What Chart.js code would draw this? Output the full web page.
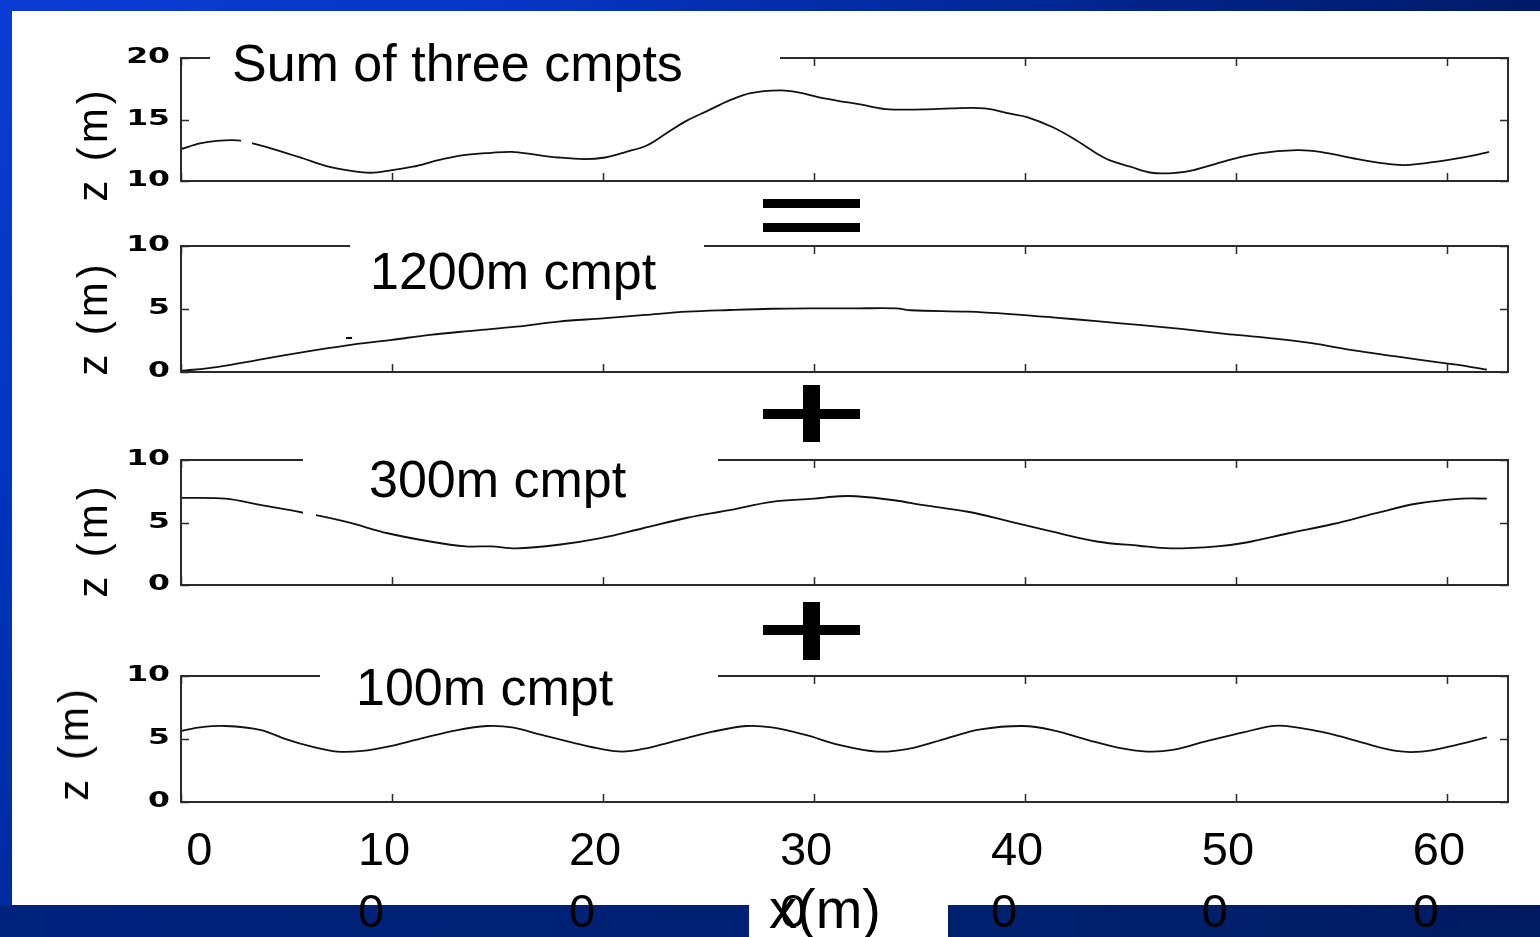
<!DOCTYPE html>
<html>
<head>
<meta charset="utf-8">
<script src="https://cdn.jsdelivr.net/npm/chart.js@4.4.1/dist/chart.umd.min.js"></script>
<style>
  html, body { margin: 0; padding: 0; }
  body {
    width: 1540px; height: 937px; overflow: hidden; position: relative;
    background: #00216f;
    font-family: 'Liberation Sans', Arial, sans-serif;
  }
  .abs { position: absolute; }
  .white { background: #fff; }
  .bar { position: absolute; background: #000; }
  canvas { position: absolute; left: 0; z-index: 1; }
  .title { position: absolute; z-index: 3; font-size: 52px; line-height: 52px; color: #000; white-space: nowrap; }
  .ylab { position: absolute; z-index: 3; font-size: 42px; line-height: 42px; letter-spacing: 4px; color: #000;
          white-space: nowrap; transform: translate(-50%, -50%) rotate(-90deg); }
</style>
</head>
<body>
<div class="abs" style="left:0; top:0; width:1540px; height:11px; background: linear-gradient(to right, #0a3cd4, #0734c2 35%, #002690 70%, #001a68);"></div>
<div class="abs" style="left:0; top:0; width:12px; height:905px; background: linear-gradient(to bottom, #0a3cd4, #0034bc 60%, #002aa0);"></div>
<div class="abs" style="left:0; top:905px; width:1540px; height:32px; background: linear-gradient(to right, #00237e, #00216f 70%, #001a60);"></div>
<div class="abs white" style="left:12px; top:11px; width:1528px; height:894px;"></div>
<div class="abs white" style="left:749px; top:905px; width:199px; height:32px;"></div>

<canvas id="c1"></canvas>
<canvas id="c2"></canvas>
<canvas id="c3"></canvas>
<canvas id="c4"></canvas>

<!-- title boxes cover the top border like in the slide -->
<div class="abs white" style="z-index:2; left:210px; top:35px; width:570px; height:53px;"></div>
<div class="abs white" style="z-index:2; left:350px; top:236px; width:354px; height:64px;"></div>
<div class="abs white" style="z-index:2; left:303px; top:450px; width:415px; height:58px;"></div>
<div class="abs white" style="z-index:2; left:320px; top:666px; width:398px; height:52px;"></div>
<div class="abs white" style="z-index:2; left:241px; top:133px; width:11px; height:15px;"></div>
<div class="abs white" style="z-index:2; left:303px; top:500px; width:13px; height:20px;"></div>
<div class="bar" style="z-index:2; left:346px; top:337px; width:6px; height:2px;"></div>

<div class="title" style="left:232px; top:37px;">Sum of three cmpts</div>
<div class="title" style="left:370px; top:245px;">1200m cmpt</div>
<div class="title" style="left:369px; top:453px;">300m cmpt</div>
<div class="title" style="left:356px; top:661px;">100m cmpt</div>

<div class="ylab" style="left:93px; top:144px;">z (m)</div>
<div class="ylab" style="left:93px; top:318px;">z (m)</div>
<div class="ylab" style="left:93px; top:540px;">z (m)</div>
<div class="ylab" style="left:74px; top:743px;">z (m)</div>

<!-- = and + signs -->
<div class="bar" style="z-index:2; left:763px; top:199px; width:97px; height:9px;"></div>
<div class="bar" style="z-index:2; left:763px; top:223px; width:97px; height:9px;"></div>
<div class="bar" style="z-index:2; left:763px; top:409px; width:97px; height:10px;"></div>
<div class="bar" style="z-index:2; left:803px; top:385px; width:17px; height:57px;"></div>
<div class="bar" style="z-index:2; left:763px; top:625px; width:97px; height:10px;"></div>
<div class="bar" style="z-index:2; left:803px; top:602px; width:17px; height:58px;"></div>

<div class="abs" style="z-index:3; left:769px; top:880px; font-size:56px; line-height:58px;">x(m)</div>

<script>
// x positions (m) and elevations z (m)
const xSum = [0, 9, 17, 27, 34, 48, 58, 70, 80, 90, 100, 110, 122, 134, 147, 157, 167, 179, 191, 201,
              211, 221, 231, 240, 250, 260, 270, 284, 292, 302, 312, 322, 334, 352, 365, 381, 393, 401,
              413, 423, 434, 440, 450, 460, 472, 480, 495, 511, 529, 540, 556, 568, 580, 597, 611, 620];
const zSum = [12.6, 13.05, 13.26, 13.3, 13.05, 12.37, 11.83, 11.16, 10.84, 10.67, 10.89, 11.16, 11.7, 12.1,
              12.29, 12.37, 12.16, 11.91, 11.78, 11.91, 12.37, 12.91, 13.99, 14.93, 15.74, 16.55, 17.14,
              17.36, 17.22, 16.82, 16.5, 16.23, 15.85, 15.82, 15.9, 15.9, 15.47, 15.2, 14.39, 13.45, 12.24,
              11.7, 11.16, 10.67, 10.67, 10.89, 11.62, 12.24, 12.51, 12.37, 11.83, 11.48, 11.29, 11.62,
              12.02, 12.37];

const x1200 = [0, 17, 38, 58, 78, 100, 118, 139, 159, 179, 200, 220, 240, 260, 280, 300, 320, 339, 346,
               373, 393, 413, 434, 454, 474, 495, 515, 536, 556, 576, 597, 607, 619];
const z1200 = [0.08, 0.39, 1.0, 1.58, 2.1, 2.55, 2.95, 3.29, 3.6, 4.0, 4.26, 4.53, 4.79, 4.92, 5.02, 5.05,
               5.05, 5.05, 4.9, 4.79, 4.6, 4.34, 4.03, 3.74, 3.42, 3.03, 2.71, 2.29, 1.71, 1.24, 0.74,
               0.53, 0.18];

const x300 = [0, 21, 38, 58, 78, 98, 118, 135, 147, 159, 179, 199, 219, 240, 260, 280, 300, 312, 320,
              338, 352, 373, 393, 413, 434, 454, 469, 491, 505, 525, 546, 566, 586, 607, 619];
const z300 = [6.97, 6.91, 6.39, 5.78, 5.07, 4.14, 3.48, 3.09, 3.09, 2.93, 3.22, 3.75, 4.54, 5.38, 5.99,
              6.65, 6.91, 7.1, 7.1, 6.78, 6.39, 5.86, 5.07, 4.27, 3.48, 3.14, 2.93, 3.09, 3.4, 4.14, 4.88,
              5.73, 6.52, 6.91, 6.91];

const x100 = [0, 9, 21, 38, 50, 62, 74, 86, 98, 114, 131, 145, 157, 171, 187, 199, 209, 219, 236, 252,
              268, 280, 296, 312, 330, 346, 363, 379, 399, 413, 430, 444, 458, 470, 487, 503, 517, 527,
              544, 560, 576, 588, 601, 619];
const z100 = [5.63, 5.92, 6.03, 5.71, 4.97, 4.39, 4.0, 4.05, 4.39, 5.05, 5.71, 6.03, 5.92, 5.32, 4.66,
              4.21, 4.0, 4.21, 4.92, 5.58, 6.03, 5.92, 5.32, 4.53, 4.0, 4.26, 5.05, 5.76, 6.03, 5.71, 4.92,
              4.32, 4.0, 4.13, 4.87, 5.5, 6.03, 5.97, 5.45, 4.71, 4.05, 4.0, 4.39, 5.13];

// x tick labels wrap their last digit onto a second line, as on the slide
const xTickLabels = {0: ['\u2007 0'], 100: ['10', '0'], 200: ['20', '0'], 300: ['30', '0'],
                     400: ['40', '0'], 500: ['50', '0'], 600: ['60', '0']};

const X_MAX = 629;
const PLOT_LEFT = 181;
const PLOT_RIGHT = 1508;
const PAD = 26;

// matlab style box with inward ticks
const boxPlugin = {
  id: 'matlabBox',
  afterLayout(chart) {
    // the slide's y tick numbers are stretched sideways
    const y = chart.scales.y;
    if (y._stretched) return;
    const orig = y.drawLabels;
    y.drawLabels = function (area) {
      const ctx = this.ctx;
      const ax = this.right - this.options.ticks.padding;
      ctx.save();
      ctx.translate(ax, 0);
      ctx.scale(1.5, 1);
      ctx.translate(-ax, 0);
      orig.call(this, area);
      ctx.restore();
    };
    y._stretched = true;
  },
  afterDatasetsDraw(chart) {
    const { ctx, chartArea: a, scales: { x, y } } = chart;
    ctx.save();
    ctx.strokeStyle = '#2a2a2a';
    ctx.lineWidth = 2;
    ctx.strokeRect(a.left, a.top, a.right - a.left, a.bottom - a.top);
    ctx.lineWidth = 1.5;
    ctx.beginPath();
    x.ticks.forEach(t => {
      const px = Math.round(x.getPixelForValue(t.value)) + 0.5;
      ctx.moveTo(px, a.bottom); ctx.lineTo(px, a.bottom - 8);
      ctx.moveTo(px, a.top); ctx.lineTo(px, a.top + 8);
    });
    y.ticks.forEach(t => {
      const py = Math.round(y.getPixelForValue(t.value)) + 0.5;
      ctx.moveTo(a.left, py); ctx.lineTo(a.left + 8, py);
      ctx.moveTo(a.right, py); ctx.lineTo(a.right - 8, py);
    });
    ctx.stroke();
    ctx.restore();
  }
};

function makePanel(id, xs, zs, yMin, yMax, plotTop, plotBottom, showX) {
  const canvas = document.getElementById(id);
  const canvasTop = plotTop - PAD;
  const xHeight = showX ? 937 - plotBottom : PAD;
  const height = plotBottom + xHeight - canvasTop;
  canvas.width = 1540;
  canvas.height = height;
  canvas.style.top = canvasTop + 'px';
  canvas.style.width = '1540px';
  canvas.style.height = height + 'px';

  const punti = xs.map((v, i) => ({ x: v, y: zs[i] }));

  return new Chart(canvas, {
    type: 'line',
    data: {
      datasets: [{
        data: punti,
        borderColor: '#111',
        borderWidth: 1.8,
        pointRadius: 0,
        tension: 0.35,
        fill: false
      }]
    },
    options: {
      responsive: false,
      devicePixelRatio: 1,
      animation: false,
      events: [],
      layout: { padding: { top: PAD, right: 1540 - PLOT_RIGHT, left: 0, bottom: 0 } },
      plugins: { legend: { display: false }, tooltip: { enabled: false }, title: { display: false } },
      scales: {
        x: {
          type: 'linear',
          min: 0,
          max: X_MAX,
          grid: { display: false, drawTicks: false },
          border: { display: false },
          afterFit: s => { s.height = xHeight; },
          ticks: {
            display: showX,
            stepSize: 100,
            includeBounds: false,
            autoSkip: false,
            maxRotation: 0,
            minRotation: 0,
            align: 'start',
            labelOffset: -34,
            padding: 19,
            color: '#000',
            font: { family: "'Liberation Sans', Arial, sans-serif", size: 47, lineHeight: 1.32 },
            callback: v => xTickLabels[v] || ''
          }
        },
        y: {
          min: yMin,
          max: yMax,
          grid: { display: false, drawTicks: false },
          border: { display: false },
          afterFit: s => { s.width = PLOT_LEFT; },
          ticks: {
            stepSize: 5,
            padding: 11,
            color: '#000',
            font: { family: "'DejaVu Sans', sans-serif", size: 21, weight: 'bold', lineHeight: 1 }
          }
        }
      }
    },
    plugins: [boxPlugin]
  });
}

makePanel('c1', xSum, zSum, 10, 20, 58, 181, false);
makePanel('c2', x1200, z1200, 0, 10, 246, 372, false);
makePanel('c3', x300, z300, 0, 10, 460, 585, false);
makePanel('c4', x100, z100, 0, 10, 676, 802, true);
</script>
</body>
</html>
